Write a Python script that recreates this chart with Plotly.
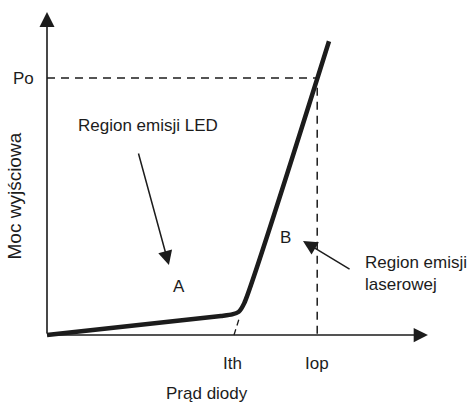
import plotly.graph_objects as go

# Laser diode L-I characteristic (arbitrary units)
I_curve = [0.0, 9.3, 9.9, 10.25, 10.55, 15.08]   # diode current
P_curve = [0.0, 0.74, 0.80, 0.90, 1.24, 11.43]   # optical output power

I_th = 10.0      # threshold current
I_op = 14.45     # operating current
P_o = 10.0       # output power at operating point

I_axis_end = 20.37
P_axis_end = 12.57

# threshold extrapolation (dashed) down to the current axis
I_ext = [10.0, 10.3]
P_ext = [0.0, 0.70]

tick_labels = {"Po": P_o, "Ith": I_th, "Iop": I_op}
x_title = "Prąd diody"
y_title = "Moc wyjściowa"
led_label = "Region emisji LED"
laser_label = "Region emisji<br>laserowej"

INK = "#1c1c1c"
FONT = "Liberation Sans, Arial, sans-serif"

fig = go.Figure()

# dashed guides for the operating point
fig.add_trace(go.Scatter(x=[0, I_op, I_op], y=[P_o, P_o, 0], mode="lines",
                         line=dict(color=INK, width=1.5, dash="8px,6px"),
                         hoverinfo="skip"))
fig.add_trace(go.Scatter(x=I_ext, y=P_ext, mode="lines",
                         line=dict(color=INK, width=1.3, dash="6px,4px"),
                         hoverinfo="skip"))

# characteristic
fig.add_trace(go.Scatter(x=I_curve, y=P_curve, mode="lines",
                         line=dict(color=INK, width=4.5, shape="spline", smoothing=0.6),
                         hoverinfo="skip"))

annotations = []

def arrow(x0, y0, x1, y1, width, size=1.9):
    annotations.append(dict(x=x1, y=y1, ax=x0, ay=y0, xref="x", yref="y",
                            axref="x", ayref="y", text="", showarrow=True,
                            arrowhead=2, arrowsize=size * 1.5 / width, arrowwidth=width,
                            arrowcolor=INK, standoff=0, startstandoff=0))

# axes with arrowheads
arrow(0, 0, I_axis_end, 0, 1.6)
arrow(0, 0, 0, P_axis_end, 1.6, size=2.0)

# pointer arrows for the two regions
arrow(4.87, 7.12, 6.52, 2.72, 1.5)
arrow(16.26, 2.53, 13.69, 3.66, 1.5)

def label(x, y, text, xanchor="center", angle=0, size=17):
    annotations.append(dict(x=x, y=y, xref="x", yref="y", text=text, showarrow=False,
                            xanchor=xanchor, yanchor="middle", textangle=angle,
                            align="left", font=dict(family=FONT, size=size, color=INK)))

label(-1.28, tick_labels["Po"], "Po")
label(tick_labels["Ith"] - 0.1, -1.09, "Ith")
label(tick_labels["Iop"], -1.09, "Iop")
label(8.56, -2.26, x_title)
label(-1.75, 5.4, y_title, angle=-90, size=19)
label(5.4, 8.17, led_label)
label(7.06, 1.87, "A")
label(12.78, 3.81, "B")
label(16.9, 2.41, laser_label, xanchor="left")

fig.update_layout(
    width=468, height=403,
    margin=dict(l=0, r=0, t=0, b=0),
    paper_bgcolor="white", plot_bgcolor="white",
    showlegend=False,
    annotations=annotations,
    xaxis=dict(range=[-47 / 18.7, 421 / 18.7], visible=False, fixedrange=True),
    yaxis=dict(range=[-68 / 25.7, 335 / 25.7], visible=False, fixedrange=True),
)

fig.write_html("out.html", config={"displayModeBar": False})
